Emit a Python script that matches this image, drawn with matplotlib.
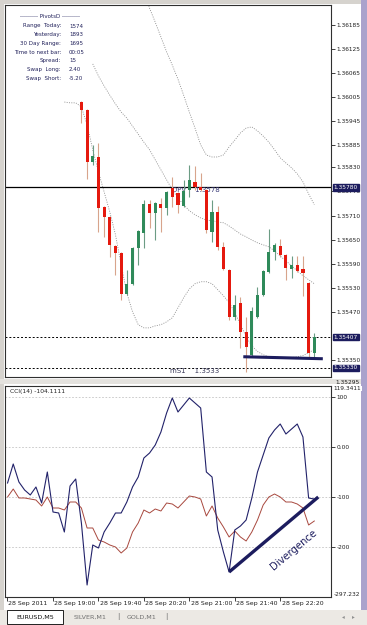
import matplotlib
matplotlib.use("Agg")
import matplotlib.pyplot as plt
from matplotlib.patches import Rectangle
from matplotlib.transforms import ScaledTranslation

W, H = 367, 625

# ---- data: EURUSD M5, bar index 0 = 28 Sep 19:00 ----
bars = list(range(5, 47))
opens = [1.35993, 1.35973, 1.35844, 1.35856, 1.35732, 1.35707, 1.35634, 1.35617, 1.35515, 1.35540,
         1.35629, 1.35667, 1.35739, 1.35717, 1.35739, 1.35729, 1.35779, 1.35766, 1.35734, 1.35774,
         1.35794, 1.35781, 1.35774, 1.35669, 1.35719, 1.35632, 1.35575, 1.35458, 1.35493, 1.35420,
         1.35363, 1.35458, 1.35512, 1.35570, 1.35619, 1.35634, 1.35612, 1.35577, 1.35587, 1.35577,
         1.35542, 1.35368]
highs = [1.35995, 1.35976, 1.35886, 1.35891, 1.35734, 1.35709, 1.35637, 1.35619, 1.35575, 1.35632,
         1.35674, 1.35749, 1.35749, 1.35744, 1.35754, 1.35771, 1.35806, 1.35769, 1.35799, 1.35836,
         1.35834, 1.35816, 1.35776, 1.35749, 1.35734, 1.35644, 1.35577, 1.35512, 1.35507, 1.35458,
         1.35483, 1.35532, 1.35575, 1.35677, 1.35642, 1.35652, 1.35614, 1.35609, 1.35609, 1.35609,
         1.35545, 1.35416]
lows = [1.35941, 1.35801, 1.35836, 1.35669, 1.35657, 1.35607, 1.35562, 1.35500, 1.35512, 1.35537,
        1.35587, 1.35629, 1.35679, 1.35649, 1.35669, 1.35712, 1.35732, 1.35717, 1.35732, 1.35756,
        1.35774, 1.35771, 1.35667, 1.35644, 1.35624, 1.35575, 1.35450, 1.35450, 1.35381, 1.35321,
        1.35361, 1.35455, 1.35510, 1.35567, 1.35600, 1.35607, 1.35550, 1.35555, 1.35570, 1.35510,
        1.35358, 1.35356]
closes = [1.35973, 1.35844, 1.35859, 1.35729, 1.35707, 1.35637, 1.35617, 1.35515, 1.35540, 1.35629,
          1.35672, 1.35739, 1.35717, 1.35742, 1.35729, 1.35769, 1.35756, 1.35737, 1.35771, 1.35799,
          1.35781, 1.35774, 1.35674, 1.35719, 1.35632, 1.35577, 1.35458, 1.35488, 1.35420, 1.35383,
          1.35473, 1.35512, 1.35572, 1.35619, 1.35637, 1.35612, 1.35580, 1.35587, 1.35572, 1.35567,
          1.35368, 1.35407]

# dotted envelope lines
upper_bars = list(range(16, 47))
upper_band = [1.36272, 1.36227, 1.36192, 1.36155, 1.36118, 1.36085, 1.36050, 1.36010, 1.35968, 1.35928,
              1.35886, 1.35861, 1.35856, 1.35856, 1.35861, 1.35881, 1.35898, 1.35916, 1.35928, 1.35931,
              1.35921, 1.35908, 1.35893, 1.35874, 1.35854, 1.35841, 1.35829, 1.35814, 1.35794, 1.35764,
              1.35737]
middle_bars = list(range(7, 47))
middle_band = [1.36088, 1.36058, 1.36033, 1.36010, 1.35988, 1.35968,
               1.35953, 1.35933, 1.35913, 1.35893, 1.35874, 1.35849, 1.35824, 1.35799, 1.35774, 1.35754,
               1.35737, 1.35722, 1.35712, 1.35704, 1.35699, 1.35697, 1.35694, 1.35692, 1.35684, 1.35674,
               1.35664, 1.35657, 1.35649, 1.35642, 1.35637, 1.35632, 1.35622, 1.35609, 1.35597, 1.35585,
               1.35572, 1.35560, 1.35550, 1.35540]
lower_bars = list(range(2, 47))
lower_band = [1.35993, 1.35991, 1.35991, 1.35981, 1.35936, 1.35874, 1.35819, 1.35769, 1.35719, 1.35662,
              1.35587, 1.35517, 1.35470, 1.35438, 1.35430, 1.35430, 1.35435, 1.35438, 1.35445, 1.35455,
              1.35480, 1.35505, 1.35527, 1.35540, 1.35545, 1.35545, 1.35540, 1.35525, 1.35510, 1.35493,
              1.35468, 1.35438, 1.35408, 1.35385, 1.35371, 1.35363, 1.35358, 1.35358, 1.35356, 1.35356,
              1.35356, 1.35358, 1.35361, 1.35368, 1.35376]

pivot_level = 1.35780
bid_level = 1.35407
s1_level = 1.35330
support_line_x = [33.5, 47.5]
support_line_y = [1.35358, 1.35353]

price_ticks = [1.36185, 1.36125, 1.36065, 1.36005, 1.35945, 1.35885, 1.35830, 1.35770,
               1.35710, 1.35650, 1.35590, 1.35530, 1.35470, 1.35350]

# CCI panel
cci_bars = list(range(-8, 47))
cci14 = [-72, -34, -70, -86, -96, -80, -112, -50, -130, -132, -170, -78, -64, -152, -276,
         -196, -202, -170, -152, -132, -132, -110, -80, -60, -22, -12, 4, 30, 68, 98,
         70, 84, 98, 88, 78, -50, -60, -166, -210, -250, -166, -158, -146, -102, -50,
         -16, 18, 34, 46, 26, 36, 46, 20, -102, -104.1111]
cci_slow = [-100, -84, -102, -102, -104, -106, -118, -100, -122, -122, -126, -110, -110, -122, -162,
            -162, -186, -190, -196, -200, -212, -202, -170, -152, -126, -132, -124, -128, -112, -114,
            -122, -110, -98, -100, -104, -138, -118, -142, -160, -180, -168, -180, -188, -170, -146,
            -116, -100, -94, -100, -110, -110, -114, -122, -156, -148]
cci_levels = [100, 0, -100, -200]
cci_max, cci_min = 119.3411, -297.232
div_x = [31, 46.7]
div_y = [-250, -100]

time_ticks = [-8.1, 0, 8, 16, 24, 32, 40]
time_labels = ["28 Sep 2011", "28 Sep 19:00", "28 Sep 19:40", "28 Sep 20:20",
               "28 Sep 21:00", "28 Sep 21:40", "28 Sep 22:20"]

info_labels = ["Range  Today:", "Yesterday:", "30 Day Range:", "Time to next bar:",
               "Spread:", "Swap  Long:", "Swap  Short:"]
info_values = ["1574", "1893", "1695", "00:05", "15", "2.40", "-5.20"]

NAVY = "#1c1c5e"
BEAR, BEAR_WICK = "#e5190e", "#d8a48c"
BULL, BULL_WICK = "#2f8a5a", "#6c9c84"


def rect(x0, y0, x1, y1):
    return [x0 / W, 1 - y1 / H, (x1 - x0) / W, (y1 - y0) / H]


def fxy(x, y):
    return x / W, 1 - y / H


fig = plt.figure(figsize=(W / 100, H / 100), dpi=100)
fig.patch.set_facecolor("white")

# window chrome
for x0, y0, x1, y1, c in [(0, 0, 4, 625, "#d6d3ce"), (0, 0, 367, 4, "#d6d3ce"),
                          (361, 0, 367, 625, "#aaa2cc"), (0, 610, 367, 625, "#ece9e4"),
                          (0, 379, 361, 384, "#e4e2de")]:
    fig.add_artist(Rectangle((x0 / W, 1 - y1 / H), (x1 - x0) / W, (y1 - y0) / H,
                             transform=fig.transFigure, color=c, lw=0, zorder=0))

# ---------------- price panel ----------------
ax = fig.add_axes(rect(5, 5, 331, 377))
ax.set_xlim(-8.45, 48.94)
ax.set_ylim(1.353075, 1.362349)

bodies_bottom = [min(o, c) for o, c in zip(opens, closes)]
bodies_height = [abs(c - o) for o, c in zip(opens, closes)]
body_cols = [BULL if c >= o else BEAR for o, c in zip(opens, closes)]
wick_cols = [BULL_WICK if c >= o else BEAR_WICK for o, c in zip(opens, closes)]
ax.vlines(bars, lows, highs, colors=wick_cols, lw=0.8, zorder=3)
ax.bar(bars, bodies_height, bottom=bodies_bottom, width=0.55, color=body_cols, lw=0, zorder=4)

dot = (0, (1.2, 1.6))
for xs, ys in [(upper_bars, upper_band), (middle_bars, middle_band), (lower_bars, lower_band)]:
    ax.plot(xs, ys, color="#8a8a8a", lw=0.6, ls=dot, zorder=2)

ax.axhline(pivot_level, color="black", lw=0.9, zorder=1)
ax.axhline(bid_level, color="black", lw=0.7, ls=(0, (2, 2)), zorder=1)
ax.axhline(s1_level, color="black", lw=0.7, ls=(0, (2, 2)), zorder=1)
ax.plot(support_line_x, support_line_y, color=NAVY, lw=2.2, solid_capstyle="butt", zorder=5)

ax.text(20.9, pivot_level, "DPV    1.3578", fontsize=5, color="#3a3a78", va="top", ha="left", zorder=1)
ax.text(20.6, s1_level, "mS1    1.3533", fontsize=5, color="#3a3a5a", va="top", ha="left", zorder=1)

ax.yaxis.tick_right()
ax.set_yticks(price_ticks)
ax.set_yticklabels([f"{p:.5f}" for p in price_ticks])
ax.tick_params(axis="y", length=3, width=0.6, pad=1, labelsize=4.2, colors="#202020")
ax.set_xticks([])
for sp in ax.spines.values():
    sp.set_color("#303030")
    sp.set_linewidth(0.8)

for lvl in [pivot_level, bid_level, s1_level]:
    ax.annotate(f"{lvl:.5f}", xy=(1.0, lvl), xycoords=("axes fraction", "data"),
                xytext=(2, 0), textcoords="offset points", fontsize=4.2, color="white",
                va="center", ha="left", annotation_clip=False,
                bbox=dict(boxstyle="square,pad=0.15", fc=NAVY, ec=NAVY))
ax.annotate("1.35295", xy=(1.0, 1.35295), xycoords=("axes fraction", "data"),
            xytext=(3, 0), textcoords="offset points", fontsize=4.2, color="#202020",
            va="center", ha="left", annotation_clip=False)

# pivot info block
fig.text(*fxy(50, 17), "--------- PivotsD ---------", fontsize=4, color="#20205a", ha="center", va="center")
for k, (lab, val) in enumerate(zip(info_labels, info_values)):
    y = 26 + 8.7 * k
    fig.text(*fxy(61, y), lab, fontsize=4, color="#20205a", ha="right", va="center")
    fig.text(*fxy(69, y), val, fontsize=4, color="#20205a", ha="left", va="center")

# ---------------- CCI panel ----------------
ax2 = fig.add_axes(rect(5, 386, 331, 597))
ax2.set_xlim(-8.45, 48.94)
ax2.set_ylim(-300, 122)
for lv in cci_levels:
    ax2.axhline(lv, color="#c4c4c4", lw=0.6, ls=(0, (2, 2)), zorder=1)
ax2.plot(cci_bars, cci_slow, color="#a8483e", lw=0.7, zorder=2)
ax2.plot(cci_bars, cci14, color="#22226a", lw=0.8, zorder=3)
ax2.plot(div_x, div_y, color=NAVY, lw=2.4, solid_capstyle="butt", zorder=4)
ax2.text(42.3, -205, "Divergence", rotation=40, rotation_mode="anchor", fontsize=7.2,
         color=NAVY, ha="center", va="center")
ax2.text(0.015, 0.985, f"CCI(14) {cci14[-1]:.4f}", transform=ax2.transAxes, fontsize=4.3,
         color="#202020", ha="left", va="top")

ax2.yaxis.tick_right()
ax2.set_yticks(cci_levels)
ax2.set_yticklabels(["100", "0.00", "-100", "-200"])
ax2.tick_params(axis="y", length=3, width=0.6, pad=1, labelsize=4.2, colors="#202020")
ax2.annotate(f"{cci_max:.4f}", xy=(1.0, 1.0), xycoords="axes fraction", xytext=(2, 0),
             textcoords="offset points", fontsize=4.2, color="#202020", va="top", ha="left",
             annotation_clip=False, bbox=dict(boxstyle="square,pad=0.05", fc="white", ec="none"))
ax2.annotate(f"{cci_min:.3f}", xy=(1.0, 0.0), xycoords="axes fraction", xytext=(2, 0),
             textcoords="offset points", fontsize=4.2, color="#202020", va="bottom", ha="left",
             annotation_clip=False)

ax2.set_xticks(time_ticks)
ax2.set_xticklabels(time_labels)
ax2.tick_params(axis="x", length=3, width=0.6, pad=0, labelsize=4.5, colors="#202020")
shift = ScaledTranslation(1.5 / 100, 0, fig.dpi_scale_trans)
for lab in ax2.get_xticklabels():
    lab.set_horizontalalignment("left")
    lab.set_transform(lab.get_transform() + shift)
for sp in ax2.spines.values():
    sp.set_color("#303030")
    sp.set_linewidth(0.8)

# symbol tabs
fig.add_artist(Rectangle((7 / W, 1 - 624 / H), 56 / W, 14 / H, transform=fig.transFigure,
                         fc="white", ec="#202020", lw=0.7))
fig.text(*fxy(35, 617), "EURUSD,M5", fontsize=4.6, color="#101010", ha="center", va="center")
fig.text(*fxy(90, 617), "SILVER,M1", fontsize=4.6, color="#707070", ha="center", va="center")
fig.text(*fxy(118, 617), "|", fontsize=5, color="#707070", ha="center", va="center")
fig.text(*fxy(142, 617), "GOLD,M1", fontsize=4.6, color="#707070", ha="center", va="center")
fig.text(*fxy(166, 617), "|", fontsize=5, color="#707070", ha="center", va="center")
fig.text(*fxy(343, 617), "◂", fontsize=4, color="#909090", ha="center", va="center")
fig.text(*fxy(353, 617), "▸", fontsize=4, color="#909090", ha="center", va="center")

fig.savefig("out.png", dpi=100)
